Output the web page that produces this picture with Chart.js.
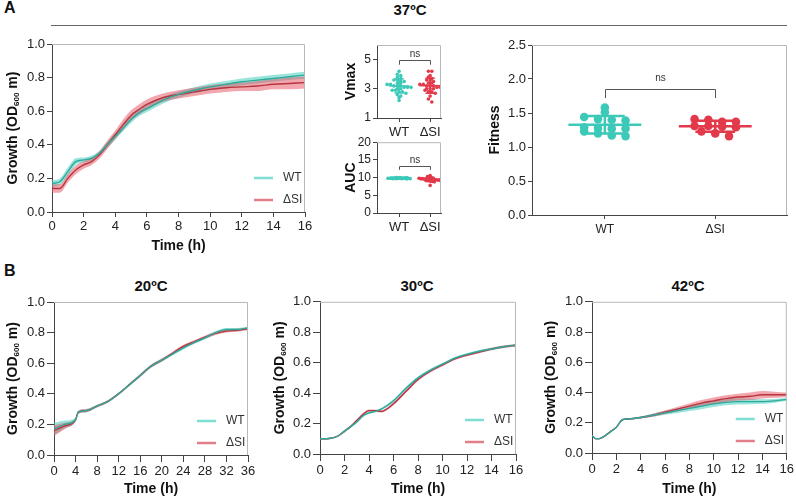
<!DOCTYPE html>
<html>
<head>
<meta charset="utf-8">
<script src="https://cdn.jsdelivr.net/npm/chart.js@4.4.1/dist/chart.umd.min.js"></script>
<style>
body { margin: 0; background: #fff; font-family: "Liberation Sans", Arial, sans-serif; }
#wrap { position: relative; width: 796px; height: 498px; overflow: hidden; }
#wrap canvas { position: absolute; }
.lbl { position: absolute; font-weight: bold; color: #111; white-space: nowrap; }
.ttl { transform: translateX(-50%); font-size: 15px; }
</style>
</head>
<body>
<div id="wrap">
  <div class="lbl" style="left:4px;top:-1px;font-size:16px">A</div>
  <div class="lbl" style="left:4px;top:262px;font-size:16px">B</div>
  <div class="lbl ttl" style="left:410px;top:1px">37ºC</div>
  <div style="position:absolute;left:51px;top:25px;width:736px;height:1px;background:#666"></div>
  <div class="lbl ttl" style="left:151px;top:277px">20ºC</div>
  <div class="lbl ttl" style="left:417px;top:277px">30ºC</div>
  <div class="lbl ttl" style="left:688px;top:277px">42ºC</div>
</div>
<script>
// ---- data ----
var groups = ['WT', 'ΔSI'];

// 37 ºC growth curves (mean and SD)
var t37 = [0, 0.5, 1, 1.5, 2, 2.5, 3, 3.5, 4, 4.5, 5, 5.5, 6, 7, 8, 9, 10, 11, 12, 13, 14, 15, 16];
var wt37 = [0.17, 0.18, 0.24, 0.30, 0.31, 0.32, 0.35, 0.40, 0.45, 0.50, 0.55, 0.59, 0.615, 0.665, 0.70, 0.725, 0.745, 0.76, 0.775, 0.785, 0.795, 0.805, 0.815];
var wt37sd = [0.02, 0.02, 0.025, 0.02, 0.015, 0.015, 0.015, 0.018, 0.02, 0.02, 0.02, 0.02, 0.02, 0.02, 0.018, 0.018, 0.02, 0.02, 0.02, 0.02, 0.02, 0.02, 0.02];
var si37 = [0.14, 0.14, 0.20, 0.25, 0.28, 0.30, 0.34, 0.40, 0.46, 0.52, 0.575, 0.61, 0.64, 0.68, 0.70, 0.715, 0.73, 0.74, 0.745, 0.75, 0.76, 0.765, 0.77];
var si37sd = [0.025, 0.025, 0.025, 0.025, 0.022, 0.022, 0.022, 0.025, 0.025, 0.03, 0.03, 0.03, 0.03, 0.025, 0.025, 0.025, 0.025, 0.025, 0.025, 0.03, 0.03, 0.035, 0.035];

// 20 ºC
var t20 = [0, 2, 4, 4.5, 6, 8, 10, 12, 14, 16, 18, 20, 22, 24, 26, 28, 30, 32, 34, 36];
var wt20 = [0.17, 0.20, 0.23, 0.28, 0.29, 0.32, 0.35, 0.40, 0.46, 0.52, 0.58, 0.62, 0.66, 0.70, 0.735, 0.765, 0.80, 0.82, 0.82, 0.83];
var wt20sd = [0.04, 0.025, 0.012, 0.01, 0.01, 0.008, 0.008, 0.008, 0.008, 0.01, 0.01, 0.01, 0.01, 0.01, 0.01, 0.01, 0.01, 0.01, 0.01, 0.01];
var si20 = [0.16, 0.19, 0.23, 0.28, 0.29, 0.32, 0.35, 0.40, 0.46, 0.52, 0.58, 0.62, 0.665, 0.71, 0.74, 0.77, 0.795, 0.81, 0.815, 0.825];
var si20sd = [0.035, 0.02, 0.01, 0.01, 0.01, 0.008, 0.008, 0.008, 0.008, 0.01, 0.01, 0.01, 0.01, 0.01, 0.01, 0.01, 0.01, 0.01, 0.01, 0.01];

// 30 ºC
var t30 = [0, 0.5, 1, 1.5, 2, 2.5, 3, 3.5, 4, 4.5, 5, 6, 7, 8, 9, 10, 11, 12, 13, 14, 15, 16];
var wt30 = [0.10, 0.10, 0.105, 0.12, 0.15, 0.18, 0.21, 0.25, 0.27, 0.28, 0.295, 0.35, 0.43, 0.50, 0.55, 0.59, 0.63, 0.655, 0.675, 0.69, 0.705, 0.715];
var wt30sd = [0.005, 0.005, 0.005, 0.005, 0.008, 0.008, 0.008, 0.008, 0.008, 0.008, 0.008, 0.01, 0.01, 0.01, 0.01, 0.008, 0.008, 0.008, 0.008, 0.008, 0.008, 0.008];
var si30 = [0.10, 0.10, 0.105, 0.12, 0.15, 0.18, 0.22, 0.26, 0.285, 0.285, 0.28, 0.33, 0.41, 0.49, 0.545, 0.585, 0.625, 0.65, 0.67, 0.69, 0.705, 0.715];
var si30sd = [0.005, 0.005, 0.005, 0.005, 0.008, 0.008, 0.008, 0.008, 0.008, 0.008, 0.008, 0.01, 0.01, 0.01, 0.01, 0.008, 0.008, 0.008, 0.008, 0.008, 0.008, 0.008];

// 42 ºC
var t42 = [0, 0.3, 0.6, 1, 1.5, 2, 2.5, 3, 4, 5, 6, 7, 8, 9, 10, 11, 12, 13, 14, 15, 16];
var wt42 = [0.115, 0.095, 0.095, 0.11, 0.14, 0.17, 0.22, 0.225, 0.235, 0.25, 0.265, 0.28, 0.295, 0.31, 0.325, 0.335, 0.34, 0.34, 0.34, 0.345, 0.355];
var wt42sd = [0.005, 0.005, 0.005, 0.005, 0.005, 0.005, 0.005, 0.005, 0.006, 0.01, 0.012, 0.015, 0.018, 0.02, 0.02, 0.02, 0.02, 0.018, 0.015, 0.012, 0.01];
var si42 = [0.115, 0.095, 0.095, 0.11, 0.14, 0.17, 0.22, 0.225, 0.235, 0.25, 0.27, 0.29, 0.31, 0.33, 0.345, 0.36, 0.37, 0.375, 0.385, 0.385, 0.385];
var si42sd = [0.005, 0.005, 0.005, 0.005, 0.005, 0.005, 0.005, 0.005, 0.006, 0.01, 0.012, 0.015, 0.018, 0.02, 0.022, 0.022, 0.022, 0.025, 0.025, 0.02, 0.015];

// 37 ºC per-replicate parameters
var vmaxWT = [4.2, 4.0, 3.9, 3.8, 3.7, 3.6, 3.6, 3.5, 3.5, 3.4, 3.4, 3.3, 3.3, 3.2, 3.2, 3.2, 3.1, 3.1, 3.1, 3.0, 3.0, 2.9, 2.9, 2.8, 2.8, 2.7, 2.6, 2.5, 2.4, 2.2];
var vmaxSI = [4.2, 4.2, 3.9, 3.8, 3.7, 3.6, 3.6, 3.5, 3.4, 3.4, 3.3, 3.3, 3.2, 3.2, 3.2, 3.1, 3.1, 3.0, 3.0, 3.0, 2.9, 2.8, 2.8, 2.7, 2.5, 2.3, 2.1];
var aucWT = [9.9, 9.9, 9.8, 9.8, 9.8, 9.9, 10.0, 9.7, 9.8, 9.9, 9.7, 9.8, 10.0, 9.9, 9.8, 9.7, 9.8, 9.9, 9.8, 9.6, 9.9, 9.8, 10.0, 9.7];
var aucSI = [10.6, 10.3, 10.1, 10.0, 9.9, 9.8, 9.7, 9.7, 9.6, 9.6, 9.5, 9.5, 9.5, 9.4, 9.4, 9.4, 9.3, 9.3, 9.3, 9.2, 9.2, 9.1, 9.0, 8.9, 8.8, 7.8];
var fitWT = [1.58, 1.51, 1.44, 1.41, 1.40, 1.39, 1.29, 1.28, 1.27, 1.27, 1.23, 1.20, 1.17, 1.16];
var fitSI = [1.41, 1.40, 1.37, 1.37, 1.31, 1.31, 1.30, 1.29, 1.23, 1.20, 1.16];

// ---- styling ----
var WT_LINE = '#2fa99b', SI_LINE = '#b8343f';
var WT_BAND = 'rgba(70,208,192,0.55)', SI_BAND = 'rgba(230,78,94,0.5)';
var WT_DOT = '#3cc9b8', SI_DOT = '#e2394b';
Chart.defaults.font.family = '"Liberation Sans", Arial, sans-serif';
Chart.defaults.color = '#222';

var wrap = document.getElementById('wrap');

var deco = {
  id: 'deco',
  afterDraw: function (chart, args, o) {
    var ctx = chart.ctx, a = chart.chartArea;
    ctx.save();
    if (o.frame) {
      ctx.strokeStyle = '#b8b8b8';
      ctx.lineWidth = 1;
      ctx.beginPath();
      ctx.moveTo(a.left, a.top + 0.5);
      ctx.lineTo(a.right - 0.5, a.top + 0.5);
      ctx.lineTo(a.right - 0.5, a.bottom);
      ctx.stroke();
    }
    if (o.legend) {
      [['WT', '#7fded2'], ['ΔSI', '#e07f8a']].forEach(function (e, i) {
        var y = a.bottom - 34 + i * 22;
        ctx.strokeStyle = e[1];
        ctx.lineWidth = 2.5;
        ctx.beginPath();
        ctx.moveTo(a.right - 51, y);
        ctx.lineTo(a.right - 32, y);
        ctx.stroke();
        ctx.fillStyle = '#333';
        ctx.font = '12px "Liberation Sans", Arial, sans-serif';
        ctx.textBaseline = 'middle';
        ctx.textAlign = 'left';
        ctx.fillText(e[0], a.right - 22, y);
      });
    }
    if (o.bracket) {
      var xs = chart.scales.x, ys = chart.scales.y;
      var x0 = Math.round(xs.getPixelForValue(0)) + 0.5, x1 = Math.round(xs.getPixelForValue(1)) + 0.5;
      var y0 = Math.round(ys.getPixelForValue(o.bracket.y)) + 0.5, y1 = ys.getPixelForValue(o.bracket.drop);
      ctx.strokeStyle = '#555';
      ctx.lineWidth = 1;
      ctx.beginPath();
      ctx.moveTo(x0, y1); ctx.lineTo(x0, y0); ctx.lineTo(x1, y0); ctx.lineTo(x1, y1);
      ctx.stroke();
      ctx.fillStyle = '#333';
      ctx.font = o.bracket.size + 'px "Liberation Sans", Arial, sans-serif';
      ctx.textAlign = 'center';
      ctx.textBaseline = 'bottom';
      ctx.fillText('ns', (x0 + x1) / 2, y0 - o.bracket.gap);
    }
    if (o.ylab) {
      var parts = o.ylab.parts, w = 0;
      parts.forEach(function (p) {
        ctx.font = 'bold ' + (p.sub ? 8 : 14) + 'px "Liberation Sans", Arial, sans-serif';
        w += ctx.measureText(p.t).width;
      });
      ctx.translate(o.ylab.x, (a.top + a.bottom) / 2);
      ctx.rotate(-Math.PI / 2);
      ctx.fillStyle = '#111';
      ctx.textAlign = 'left';
      ctx.textBaseline = 'middle';
      var cx = -w / 2;
      parts.forEach(function (p) {
        ctx.font = 'bold ' + (p.sub ? 8 : 14) + 'px "Liberation Sans", Arial, sans-serif';
        ctx.fillText(p.t, cx, p.sub ? 4 : 0);
        cx += ctx.measureText(p.t).width;
      });
    }
    ctx.restore();
  }
};

// box = canvas rect on page, area = wanted plot area on page
function place(box, area, cfg) {
  var cv = document.createElement('canvas');
  cv.width = box.w; cv.height = box.h;
  cv.style.left = box.l + 'px';
  cv.style.top = box.t + 'px';
  wrap.appendChild(cv);
  var o = cfg.options;
  o.responsive = false;
  o.animation = false;
  o.layout = { padding: { left: 0, bottom: 0, top: area.t - box.t, right: box.l + box.w - area.r } };
  o.scales.x.afterFit = function (s) { s.height = box.t + box.h - area.b; };
  o.scales.y.afterFit = function (s) { s.width = area.l - box.l; };
  if (o.plugins.deco.ylab) o.plugins.deco.ylab.x -= box.l;
  cfg.plugins = [deco];
  return new Chart(cv, cfg);
}

function axis(extra) {
  var a = {
    border: { display: true, color: '#444', width: 1 },
    grid: { display: true, drawOnChartArea: false, drawTicks: true, tickLength: 5, color: '#444' },
    ticks: { font: { size: 13 }, color: '#222', padding: 2 }
  };
  for (var k in extra) {
    if (typeof extra[k] === 'object' && a[k]) { for (var j in extra[k]) a[k][j] = extra[k][j]; }
    else a[k] = extra[k];
  }
  return a;
}

function pts(t, v, sd, sign) {
  return t.map(function (x, i) { return { x: x, y: sd ? v[i] + sign * sd[i] : v[i] }; });
}

var growthLabel = [{ t: 'Growth (OD' }, { t: '600', sub: true }, { t: ' m)' }];

function growth(box, area, t, wt, wtSd, si, siSd, xMax, xStep, tick, ylabX, titlePad) {
  var line = { pointRadius: 0, borderWidth: 1.4, fill: false, cubicInterpolationMode: 'monotone', order: 0 };
  var band = { pointRadius: 0, borderWidth: 0, cubicInterpolationMode: 'monotone' };
  function ds(base, extra) { var d = {}; for (var k in base) d[k] = base[k]; for (var k2 in extra) d[k2] = extra[k2]; return d; }
  return place(box, area, {
    type: 'line',
    data: {
      datasets: [
        ds(line, { label: 'WT', data: pts(t, wt), borderColor: WT_LINE }),
        ds(line, { label: 'ΔSI', data: pts(t, si), borderColor: SI_LINE }),
        ds(band, { data: pts(t, wt, wtSd, 1), fill: '+1', backgroundColor: WT_BAND, order: 2 }),
        ds(band, { data: pts(t, wt, wtSd, -1), fill: false, order: 2 }),
        ds(band, { data: pts(t, si, siSd, 1), fill: '+1', backgroundColor: SI_BAND, order: 1 }),
        ds(band, { data: pts(t, si, siSd, -1), fill: false, order: 1 })
      ]
    },
    options: {
      plugins: {
        legend: { display: false }, tooltip: { enabled: false },
        deco: { frame: true, legend: true, ylab: { x: ylabX, parts: growthLabel } }
      },
      scales: {
        x: axis({ type: 'linear', min: 0, max: xMax,
          grid: { tickLength: tick },
          ticks: { stepSize: xStep },
          title: { display: true, text: 'Time (h)', font: { size: 14, weight: 'bold' }, color: '#111', padding: { top: 0, bottom: titlePad } } }),
        y: axis({ min: 0, max: 1,
          grid: { tickLength: tick },
          ticks: { stepSize: 0.2, callback: function (v) { return v.toFixed(1); } } })
      }
    }
  });
}

// beeswarm-like layout: values close in height share a row and are spread sideways
function swarm(vals, center, bin, step) {
  var rows = {}, out = [];
  vals.forEach(function (v) { var k = Math.round(v / bin); (rows[k] = rows[k] || []).push(v); });
  Object.keys(rows).forEach(function (k) {
    var r = rows[k];
    r.forEach(function (v, i) { out.push({ x: center + (i - (r.length - 1) / 2) * step, y: v }); });
  });
  return out;
}

function stats(v) {
  var m = v.reduce(function (s, x) { return s + x; }, 0) / v.length;
  var s = Math.sqrt(v.reduce(function (a, x) { return a + (x - m) * (x - m); }, 0) / (v.length - 1));
  return { m: m, s: s };
}

function summary(vals, c, color, wMean, wCap, lw) {
  var st = stats(vals), m = st.m, s = st.s;
  var seg = { type: 'line', showLine: true, pointRadius: 0, borderColor: color, borderWidth: lw, fill: false, order: 0 };
  function mk(d) { var o = {}; for (var k in seg) o[k] = seg[k]; o.data = d; return o; }
  return [
    mk([{ x: c - wMean, y: m }, { x: c + wMean, y: m }]),
    mk([{ x: c, y: m - s }, { x: c, y: m + s }]),
    mk([{ x: c - wCap, y: m + s }, { x: c + wCap, y: m + s }]),
    mk([{ x: c - wCap, y: m - s }, { x: c + wCap, y: m - s }])
  ];
}

function dots(box, area, a, b, opt) {
  var datasets = []
    .concat(summary(a, 0, WT_DOT, opt.wMean, opt.wCap, opt.lw))
    .concat(summary(b, 1, SI_DOT, opt.wMean, opt.wCap, opt.lw))
    .concat([
      { type: 'scatter', data: swarm(a, 0, opt.bin, opt.step), backgroundColor: WT_DOT, borderWidth: 0, pointRadius: opt.r, order: 1 },
      { type: 'scatter', data: swarm(b, 1, opt.bin, opt.step), backgroundColor: SI_DOT, borderWidth: 0, pointRadius: opt.r, order: 1 }
    ]);
  return place(box, area, {
    type: 'scatter',
    data: { datasets: datasets },
    options: {
      plugins: {
        legend: { display: false }, tooltip: { enabled: false },
        deco: { frame: opt.frame, bracket: opt.bracket, ylab: { x: opt.ylabX, parts: [{ t: opt.ylab }] } }
      },
      scales: {
        x: axis({ type: 'linear', min: opt.xMin, max: opt.xMax,
          grid: { tickLength: 4 },
          afterBuildTicks: function (s) { s.ticks = [{ value: 0 }, { value: 1 }]; },
          ticks: { font: { size: opt.catSize }, padding: 3, callback: function (v) { return groups[v]; } } }),
        y: axis({ min: opt.yMin, max: opt.yMax,
          grid: { tickLength: 4 },
          ticks: { stepSize: opt.yStep, font: { size: opt.tickSize },
            callback: function (v) { return opt.dec ? v.toFixed(opt.dec) : v; } } })
      }
    }
  });
}

// ---- panel A ----
growth({ l: 0, t: 30, w: 322, h: 235 }, { l: 52, t: 44, r: 305, b: 212 },
  t37, wt37, wt37sd, si37, si37sd, 16, 2, 5, 13, 10);

dots({ l: 330, t: 35, w: 125, h: 105 }, { l: 377, t: 45, r: 441, b: 118 }, vmaxWT, vmaxSI, {
  ylab: 'Vmax', ylabX: 351, frame: true, xMin: -0.71, xMax: 1.35, yMin: 1, yMax: 6, yStep: 1, dec: 0,
  tickSize: 12, catSize: 13, r: 1.8, bin: 0.2, step: 0.11, wMean: 0.33, wCap: 0.15, lw: 1.5,
  bracket: { y: 4.95, drop: 4.65, size: 10, gap: 1 }
});

dots({ l: 330, t: 133, w: 125, h: 100 }, { l: 377, t: 141, r: 441, b: 213 }, aucWT, aucSI, {
  ylab: 'AUC', ylabX: 351, frame: true, xMin: -0.71, xMax: 1.35, yMin: 0, yMax: 20, yStep: 5, dec: 0,
  tickSize: 12, catSize: 13, r: 1.8, bin: 0.6, step: 0.055, wMean: 0.33, wCap: 0.15, lw: 1.5,
  bracket: { y: 13.3, drop: 12.2, size: 10, gap: 1 }
});

dots({ l: 480, t: 35, w: 316, h: 210 }, { l: 532, t: 45, r: 787, b: 215 }, fitWT, fitSI, {
  ylab: 'Fitness', ylabX: 495, frame: true, xMin: -0.66, xMax: 1.65, yMin: 0, yMax: 2.5, yStep: 0.5, dec: 1,
  tickSize: 13, catSize: 12, r: 4.3, bin: 0.1, step: 0.125, wMean: 0.33, wCap: 0.18, lw: 2.5,
  bracket: { y: 1.85, drop: 1.72, size: 10, gap: 6 }
});

// ---- panel B ----
growth({ l: 0, t: 292, w: 265, h: 206 }, { l: 54, t: 302, r: 248, b: 455 },
  t20, wt20, wt20sd, si20, si20sd, 36, 4, 7, 13, 0);
growth({ l: 265, t: 292, w: 265, h: 206 }, { l: 320, t: 301, r: 516, b: 454 },
  t30, wt30, wt30sd, si30, si30sd, 16, 2, 7, 280, 0);
growth({ l: 535, t: 292, w: 261, h: 206 }, { l: 592, t: 300, r: 787, b: 453 },
  t42, wt42, wt42sd, si42, si42sd, 16, 2, 7, 551, 0);
</script>
</body>
</html>
